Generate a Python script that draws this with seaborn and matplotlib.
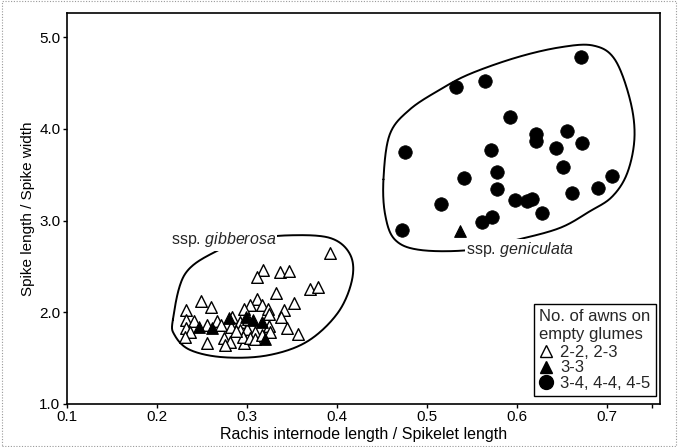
import numpy as np
import pandas as pd
import matplotlib
matplotlib.use("Agg")
import matplotlib.pyplot as plt
import seaborn as sns
from matplotlib.patches import Rectangle
from matplotlib.lines import Line2D

# ---- data ----
open_tri_x = [0.393, 0.318, 0.311, 0.337, 0.347, 0.370, 0.379, 0.333, 0.249, 0.260,
              0.233, 0.353, 0.341, 0.338, 0.311, 0.304, 0.317, 0.297, 0.324, 0.325,
              0.233, 0.241, 0.233, 0.237, 0.231, 0.256, 0.267, 0.272, 0.284, 0.293,
              0.283, 0.293, 0.300, 0.309, 0.325, 0.326, 0.345, 0.357, 0.256, 0.275,
              0.281, 0.276, 0.297, 0.296, 0.304, 0.309, 0.317, 0.302, 0.288]
open_tri_y = [2.645, 2.46, 2.38, 2.44, 2.45, 2.25, 2.28, 2.21, 2.12, 2.06,
              2.03, 2.10, 2.03, 1.95, 2.14, 2.08, 2.08, 2.04, 2.04, 1.98,
              1.92, 1.91, 1.83, 1.79, 1.73, 1.86, 1.91, 1.86, 1.95, 1.89,
              1.84, 1.81, 1.82, 1.79, 1.85, 1.79, 1.83, 1.76, 1.67, 1.72,
              1.68, 1.64, 1.66, 1.73, 1.72, 1.71, 1.75, 1.93, 1.80]

filled_tri_x = [0.247, 0.262, 0.280, 0.299, 0.307, 0.317, 0.320, 0.537]
filled_tri_y = [1.84, 1.83, 1.94, 1.95, 1.92, 1.89, 1.71, 2.89]

circle_x = [0.672, 0.533, 0.565, 0.593, 0.621, 0.621, 0.656, 0.673, 0.644, 0.476,
            0.571, 0.651, 0.542, 0.578, 0.706, 0.578, 0.690, 0.661, 0.598, 0.611,
            0.617, 0.516, 0.628, 0.573, 0.561, 0.473]
circle_y = [4.79, 4.46, 4.52, 4.13, 3.94, 3.87, 3.98, 3.85, 3.79, 3.75,
            3.77, 3.58, 3.46, 3.53, 3.49, 3.34, 3.36, 3.30, 3.22, 3.21,
            3.24, 3.18, 3.08, 3.04, 2.98, 2.90]

group_labels = ["2-2, 2-3", "3-3", "3-4, 4-4, 4-5"]
legend_title = "No. of awns on\nempty glumes"
x_ticks = [0.1, 0.2, 0.3, 0.4, 0.5, 0.6, 0.7]
y_ticks = [1.0, 2.0, 3.0, 4.0, 5.0]

# outline (annotation) control points
gib_outline = [(0.218, 1.92), (0.231, 2.41), (0.265, 2.66), (0.304, 2.79), (0.348, 2.84),
               (0.393, 2.81), (0.415, 2.63), (0.417, 2.35), (0.401, 1.99), (0.367, 1.68),
               (0.323, 1.53), (0.274, 1.51), (0.237, 1.59), (0.220, 1.75)]
gen_outline = [(0.452, 3.45), (0.459, 3.94), (0.481, 4.21), (0.515, 4.43), (0.548, 4.60),
               (0.600, 4.78), (0.648, 4.89), (0.685, 4.91), (0.709, 4.76), (0.726, 4.32),
               (0.731, 3.91), (0.723, 3.52), (0.706, 3.26), (0.681, 3.10), (0.648, 2.92),
               (0.600, 2.79), (0.548, 2.68), (0.493, 2.68), (0.465, 2.79), (0.454, 3.06)]


def closed_spline(pts, n=30):
    p = np.array(pts)
    m = len(p)
    out = []
    for i in range(m):
        p0, p1, p2, p3 = p[(i - 1) % m], p[i], p[(i + 1) % m], p[(i + 2) % m]
        t = np.linspace(0, 1, n, endpoint=False)[:, None]
        seg = 0.5 * ((2 * p1) + (-p0 + p2) * t + (2 * p0 - 5 * p1 + 4 * p2 - p3) * t ** 2
                     + (-p0 + 3 * p1 - 3 * p2 + p3) * t ** 3)
        out.append(seg)
    out = np.vstack(out)
    return np.vstack([out, out[:1]])


sns.set_theme(style="white")
plt.rcParams["font.family"] = ["Liberation Sans", "DejaVu Sans"]
plt.rcParams["mathtext.fontset"] = "custom"
plt.rcParams["mathtext.it"] = "Liberation Sans:italic"
plt.rcParams["mathtext.rm"] = "Liberation Sans"

fig = plt.figure(figsize=(6.78, 4.47), dpi=100)
ax = fig.add_axes([0.0984, 0.0962, 0.8746, 0.8758])

df_open = pd.DataFrame({"x": open_tri_x, "y": open_tri_y})
df_fill = pd.DataFrame({"x": filled_tri_x, "y": filled_tri_y})
df_circ = pd.DataFrame({"x": circle_x, "y": circle_y})

sns.scatterplot(data=df_open, x="x", y="y", marker="^", s=70, facecolor="white",
                edgecolor="black", linewidth=1.0, ax=ax, label=group_labels[0], zorder=3)
sns.scatterplot(data=df_fill, x="x", y="y", marker="^", s=70, color="black",
                edgecolor="black", linewidth=0.8, ax=ax, label=group_labels[1], zorder=4)
sns.scatterplot(data=df_circ, x="x", y="y", marker="o", s=95, color="black",
                edgecolor="black", linewidth=0.5, ax=ax, label=group_labels[2], zorder=3)

for pts in (gib_outline, gen_outline):
    c = closed_spline(pts)
    ax.plot(c[:, 0], c[:, 1], color="black", lw=1.4, zorder=2)

ax.text(0.274, 2.79, r"ssp. $\it{gibberosa}$", ha="center", va="center", fontsize=11.5,
        bbox=dict(facecolor="white", edgecolor="none", pad=1.0), zorder=5)
ax.text(0.604, 2.68, r"ssp. $\it{geniculata}$", ha="center", va="center", fontsize=11.5,
        bbox=dict(facecolor="white", edgecolor="none", pad=1.0), zorder=5)

ax.set_xlim(0.1, 0.759)
ax.set_ylim(1.0, 5.27)
ax.set_xticks(x_ticks + [0.75])
ax.set_xticklabels([f"{v:.1f}" for v in x_ticks] + [""])
ax.set_yticks(y_ticks)
ax.set_yticklabels([f"{v:.1f}" for v in y_ticks])
ax.tick_params(axis="both", direction="out", length=3, width=1, color="black",
               labelsize=11, labelcolor="black", pad=1.5)
ax.tick_params(axis="x", bottom=True)
ax.tick_params(axis="y", left=True)
for sp in ax.spines.values():
    sp.set_color("black")
    sp.set_linewidth(1.2)

ax.set_xlabel("Rachis internode length / Spikelet length", fontsize=11.5, color="black", labelpad=2)
ax.set_ylabel("Spike length / Spike width", fontsize=11, color="black", labelpad=3)

handles = [
    Line2D([], [], marker="^", linestyle="none", markerfacecolor="white",
           markeredgecolor="black", markersize=8, markeredgewidth=1.0),
    Line2D([], [], marker="^", linestyle="none", markerfacecolor="black",
           markeredgecolor="black", markersize=8),
    Line2D([], [], marker="o", linestyle="none", markerfacecolor="black",
           markeredgecolor="black", markersize=10),
]
leg = ax.legend(handles, group_labels, title=legend_title, loc="lower right",
                bbox_to_anchor=(0.993, 0.02), fontsize=12, title_fontsize=12,
                frameon=True, fancybox=False, edgecolor="black", framealpha=1,
                handlelength=0.8, handletextpad=0.45, labelspacing=0.05,
                borderpad=0.3, alignment="left", borderaxespad=0)
leg.get_frame().set_linewidth(1.0)
leg._legend_box.sep = 2

fig.patches.append(Rectangle((0.003, 0.003), 0.994, 0.994, transform=fig.transFigure,
                             fill=False, edgecolor="#999999", linestyle=(0, (1, 1.5)),
                             linewidth=0.8))

fig.savefig("out.png", dpi=100, facecolor="white")
